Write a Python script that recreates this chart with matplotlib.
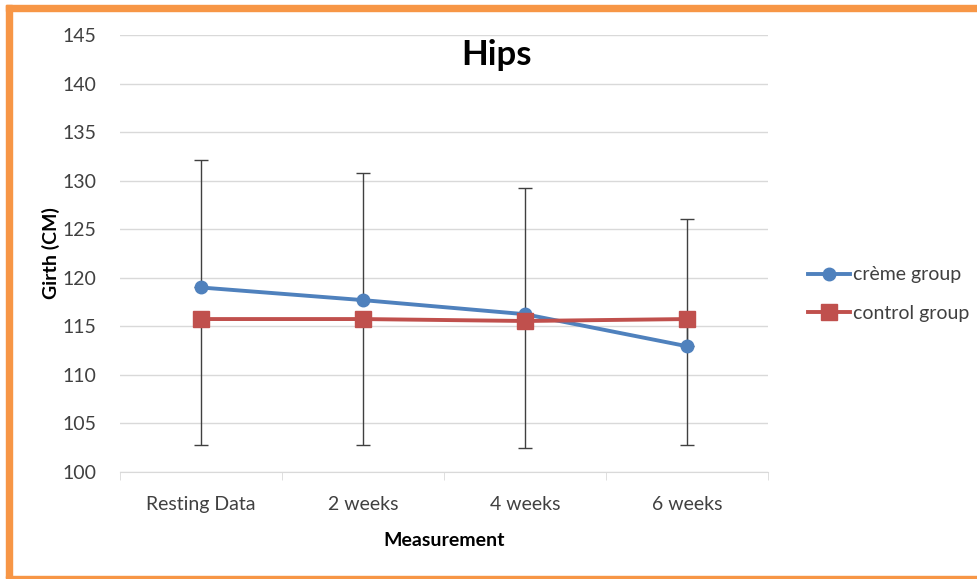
import numpy as np
import matplotlib
matplotlib.use('Agg')
import matplotlib.pyplot as plt
from matplotlib.patches import Rectangle

plt.rcParams['font.family'] = ['Lato', 'DejaVu Sans']

categories = ['Resting Data', '2 weeks', '4 weeks', '6 weeks']
creme = [119.0, 117.7, 116.25, 112.95]
control = [115.75, 115.75, 115.55, 115.75]
creme_err_up = [13.1, 13.1, 13.0, 13.1]
control_err_down = [13.0, 13.0, 13.1, 13.0]

W, H = 977, 579
fig = plt.figure(figsize=(W / 100, H / 100), dpi=100)
fig.patch.set_facecolor('white')

# orange frame
orange = '#F79646'
fig.patches.append(Rectangle((6 / W, 1 - 11 / H), 1 - 6 / W, 6 / H, transform=fig.transFigure, color=orange, zorder=0))
fig.patches.append(Rectangle((6 / W, 1 - 578 / H), 6 / W, (578 - 5) / H, transform=fig.transFigure, color=orange, zorder=0))
fig.patches.append(Rectangle((6 / W, 1 - 578 / H), 1 - 6 / W, 2 / H, transform=fig.transFigure, color=orange, zorder=0))

ax = fig.add_axes([120 / W, 1 - 472 / H, 648 / W, 437 / H])
x = np.arange(len(categories))

ax.errorbar(x, creme, yerr=[np.zeros(4), creme_err_up], fmt='none', ecolor='#404040',
            elinewidth=1, capsize=5, capthick=1, zorder=2)
ax.errorbar(x, control, yerr=[control_err_down, np.zeros(4)], fmt='none', ecolor='#404040',
            elinewidth=1, capsize=5, capthick=1, zorder=2)

ax.plot(x, creme, color='#4F81BD', lw=2.8, marker='o', ms=9, label='crème group', zorder=3)
ax.plot(x, control, color='#C0504D', lw=2.8, marker='s', ms=11.5, label='control group', zorder=4)

ax.set_ylim(100, 145)
ax.set_yticks(np.arange(100, 146, 5))
ax.set_xlim(-0.5, 3.5)
ax.set_xticks(x)
ax.set_xticklabels(categories)
ax.set_xticks(np.arange(-0.5, 3.6, 1), minor=True)
ax.grid(axis='y', color='#d9d9d9', lw=1)
ax.set_axisbelow(True)
for s in ['top', 'right', 'left']:
    ax.spines[s].set_visible(False)
ax.spines['bottom'].set_color('#d9d9d9')
ax.tick_params(axis='y', length=0, pad=17, labelsize=14, labelcolor='#404040')
ax.tick_params(axis='x', which='major', length=0, pad=17, labelsize=14, labelcolor='#404040')
ax.tick_params(axis='x', which='minor', length=6, color='#d9d9d9')

ax.set_xlabel('Measurement', fontsize=14, fontweight='bold', labelpad=14)
ax.set_ylabel('Girth (CM)', fontsize=14, fontweight='bold', labelpad=2)
fig.text(497 / W, 1 - 55 / H, 'Hips', fontsize=25, fontweight='bold', ha='center', va='center')

fig.legend(loc='center left', bbox_to_anchor=(790 / W, 1 - 294 / H), frameon=False,
           fontsize=14, handlelength=2.2, handletextpad=0.15, labelspacing=1.1,
           labelcolor='#404040')

fig.savefig('out.png', dpi=100, facecolor='white')
